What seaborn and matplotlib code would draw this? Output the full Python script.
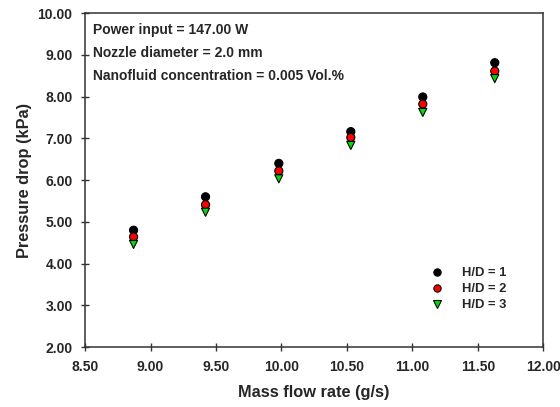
import matplotlib
matplotlib.use("Agg")
import matplotlib.pyplot as plt
import seaborn as sns
import pandas as pd

mass_flow = [8.87, 9.42, 9.98, 10.53, 11.08, 11.63]
dp_hd1 = [4.80, 5.60, 6.40, 7.16, 7.99, 8.81]
dp_hd2 = [4.64, 5.41, 6.22, 7.02, 7.82, 8.61]
dp_hd3 = [4.46, 5.23, 6.03, 6.83, 7.62, 8.43]
series_labels = ["H/D = 1", "H/D = 2", "H/D = 3"]
x_ticks = [8.50, 9.00, 9.50, 10.00, 10.50, 11.00, 11.50, 12.00]
y_ticks = [2.00, 3.00, 4.00, 5.00, 6.00, 7.00, 8.00, 9.00, 10.00]
notes = ["Power input = 147.00 W", "Nozzle diameter = 2.0 mm",
         "Nanofluid concentration = 0.005 Vol.%"]

rows = []
for lab, vals in zip(series_labels, [dp_hd1, dp_hd2, dp_hd3]):
    for x, y in zip(mass_flow, vals):
        rows.append({"x": x, "y": y, "series": lab})
df = pd.DataFrame(rows)

sns.set_style("ticks")
plt.rcParams['font.family'] = ['Liberation Sans', 'DejaVu Sans']
plt.rcParams['font.weight'] = 'bold'

fig = plt.figure(figsize=(5.6, 4.07), dpi=100)
ax = fig.add_axes([0.152, 0.147, 0.818, 0.821])

palette = {"H/D = 1": "black", "H/D = 2": "red", "H/D = 3": "#00dd00"}
markers = {"H/D = 1": "o", "H/D = 2": "o", "H/D = 3": "v"}
sns.scatterplot(data=df, x="x", y="y", hue="series", style="series",
                palette=palette, markers=markers, s=34, edgecolor="black",
                linewidth=0.8, ax=ax, legend="full", zorder=3)

ax.set_xlim(8.5, 12.0)
ax.set_ylim(2.0, 10.0)
ax.set_xticks(x_ticks)
ax.set_yticks(y_ticks)
ax.set_xticklabels([f"{t:.2f}" for t in x_ticks], fontsize=10, fontweight='bold')
ax.set_yticklabels([f"{t:.2f}" for t in y_ticks], fontsize=10, fontweight='bold')
ax.tick_params(direction='inout', length=6, width=1, color='#333333', pad=6)
for sp in ax.spines.values():
    sp.set_visible(True)
    sp.set_linewidth(1.1)
    sp.set_color('#333333')

ax.set_xlabel("Mass flow rate (g/s)", fontsize=11.8, fontweight='bold', labelpad=8)
ax.set_ylabel("Pressure drop (kPa)", fontsize=11.8, fontweight='bold', labelpad=4)

for i, t in enumerate(notes):
    ax.text(0.017, 0.949 - i * 0.068, t, transform=ax.transAxes,
            fontsize=10, fontweight='bold', va='center', ha='left')

handles, labels = ax.get_legend_handles_labels()
ax.legend(handles, labels, frameon=False, loc='upper left',
          bbox_to_anchor=(0.715, 0.275),
          prop={'weight': 'bold', 'size': 9.4}, handletextpad=0.9,
          labelspacing=0.3, markerscale=0.9)

fig.savefig("out.png", dpi=100)
